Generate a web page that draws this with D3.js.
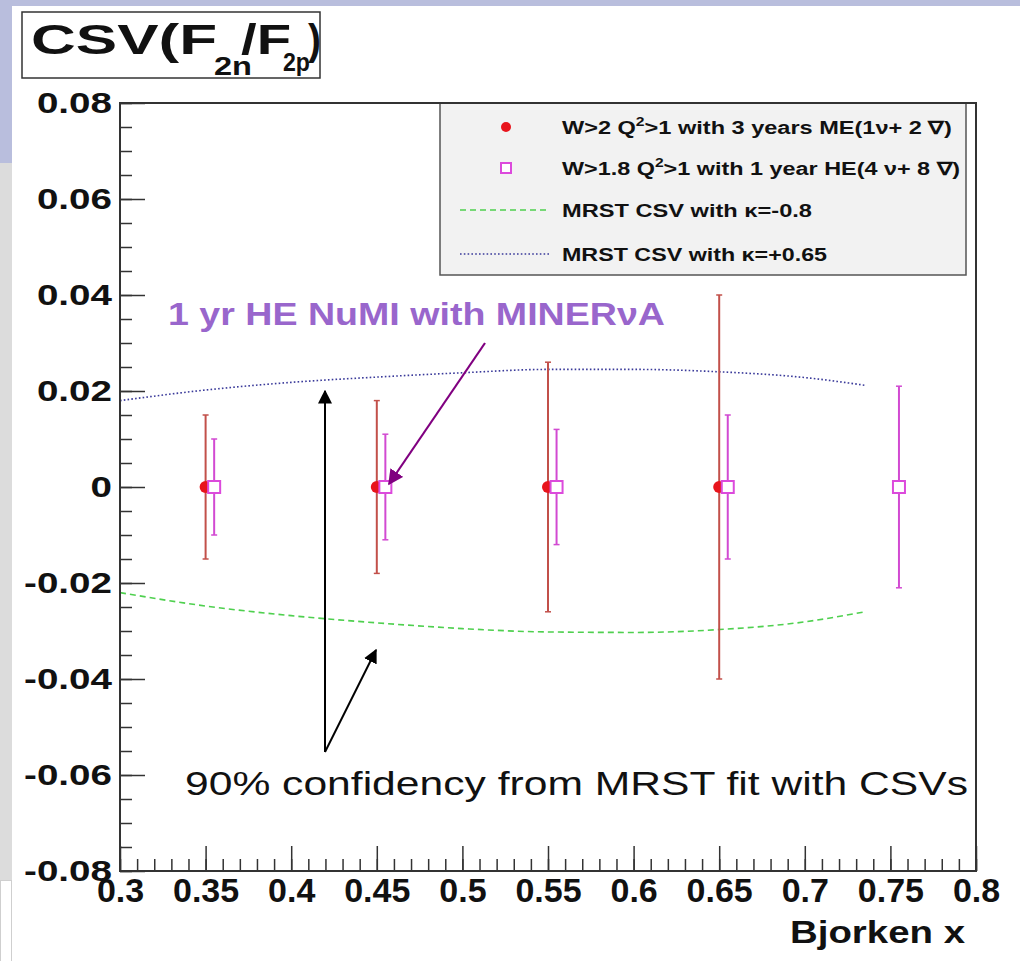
<!DOCTYPE html>
<html>
<head>
<meta charset="utf-8">
<script src="https://cdn.jsdelivr.net/npm/d3@7"></script>
<style>
  html, body { margin: 0; padding: 0; background: #ffffff; }
  svg { display: block; }
  text { font-family: Arial, "Liberation Sans", Helvetica, sans-serif; }
</style>
</head>
<body>
<svg id="chart" width="1020" height="961"></svg>
<script>
// ---------------- data ----------------
const meX   = [0.35, 0.45, 0.55, 0.65];
const meY   = [0, 0, 0, 0];
const meErr = [0.015, 0.018, 0.026, 0.040];

const heX   = [0.355, 0.455, 0.555, 0.655, 0.755];
const heY   = [0, 0, 0, 0, 0];
const heErr = [0.010, 0.011, 0.012, 0.015, 0.021];

const curveX    = [0.30, 0.35, 0.40, 0.45, 0.50, 0.55, 0.60, 0.65, 0.70, 0.735];
const kappaNeg  = [-0.0220, -0.0248, -0.0268, -0.0283, -0.0295, -0.0302, -0.0303, -0.0297, -0.0281, -0.0260];
const kappaPos  = [0.0180, 0.0202, 0.0218, 0.0229, 0.0238, 0.0245, 0.0245, 0.0240, 0.0228, 0.0212];

const xTickLabels = [0.3, 0.35, 0.4, 0.45, 0.5, 0.55, 0.6, 0.65, 0.7, 0.75, 0.8];
const yTickLabels = [-0.08, -0.06, -0.04, -0.02, 0, 0.02, 0.04, 0.06, 0.08];

const legendLabels = [
  ["W>2 Q", "2", ">1 with 3 years ME(1\u03BD+ 2 \u2207)"],
  ["W>1.8 Q", "2", ">1 with 1 year HE(4 \u03BD+ 8 \u2207)"],
  ["MRST CSV with \u03BA=-0.8"],
  ["MRST CSV with \u03BA=+0.65"]
];

// ---------------- setup ----------------
const svg = d3.select("#chart");
const W = 1020, H = 961;
const frame = {left: 120, right: 976, top: 103, bottom: 871};

const x = d3.scaleLinear().domain([0.3, 0.8]).range([frame.left, frame.right]);
const y = d3.scaleLinear().domain([-0.08, 0.08]).range([frame.bottom, frame.top]);

function stretch(sel, sx) {
  sel.each(function() {
    const w = this.getComputedTextLength();
    d3.select(this).attr("textLength", w * sx).attr("lengthAdjust", "spacingAndGlyphs");
  });
}
function fit(sel, w) {
  sel.attr("textLength", w).attr("lengthAdjust", "spacingAndGlyphs");
}

// slide decoration background
svg.append("rect").attr("x", 0).attr("y", 0).attr("width", W).attr("height", 6).attr("fill", "#b9bedd");
svg.append("rect").attr("x", 0).attr("y", 0).attr("width", 12).attr("height", 163).attr("fill", "#b9bedd");
svg.append("rect").attr("x", 0).attr("y", 163).attr("width", 12).attr("height", 717).attr("fill", "#dcdcdc");
svg.append("rect").attr("x", 0.5).attr("y", 880.5).attr("width", 11).attr("height", 85).attr("fill", "#ffffff").attr("stroke", "#cfcfcf");

// ---------------- curves ----------------
const line = d3.line().x((d, i) => x(curveX[i])).y(d => y(d)).curve(d3.curveMonotoneX);
svg.append("path").datum(kappaNeg).attr("d", line)
  .attr("fill", "none").attr("stroke", "#4fd04f").attr("stroke-width", 1.6).attr("stroke-dasharray", "6,4");
svg.append("path").datum(kappaPos).attr("d", line)
  .attr("fill", "none").attr("stroke", "#3a3a9a").attr("stroke-width", 1.6).attr("stroke-dasharray", "1.6,2.2");

// ---------------- error bars ----------------
function errBars(xs, ys, es, color, cap) {
  const g = svg.append("g");
  xs.forEach((xv, i) => {
    g.append("line").attr("x1", x(xv)).attr("x2", x(xv))
      .attr("y1", y(ys[i] + es[i])).attr("y2", y(ys[i] - es[i]))
      .attr("stroke", color).attr("stroke-width", 2);
    [ys[i] + es[i], ys[i] - es[i]].forEach(v => {
      g.append("line").attr("x1", x(xv) - cap).attr("x2", x(xv) + cap)
        .attr("y1", y(v)).attr("y2", y(v)).attr("stroke", color).attr("stroke-width", 1.5);
    });
  });
}
errBars(meX, meY, meErr, "#c2504a", 3);
errBars(heX, heY, heErr, "#d24ad2", 3);

// markers
svg.append("g").selectAll("circle").data(meX).join("circle")
  .attr("cx", d => x(d)).attr("cy", (d, i) => y(meY[i])).attr("r", 6)
  .attr("fill", "#e8141c");
svg.append("g").selectAll("rect").data(heX).join("rect")
  .attr("x", d => x(d) - 6).attr("y", (d, i) => y(heY[i]) - 6).attr("width", 12).attr("height", 12)
  .attr("fill", "#ffffff").attr("stroke", "#dc4adc").attr("stroke-width", 2);

// ---------------- axes ----------------
const yMajor = d3.range(-0.08, 0.0801, 0.02);
const yMinor = d3.range(-0.08, 0.0801, 0.005);
const xMajor = d3.range(0.3, 0.8001, 0.05);
const xMinor = d3.range(0.3, 0.8001, 0.01);

svg.append("g").attr("transform", `translate(${frame.left},0)`)
  .call(d3.axisRight(y).tickValues(yMinor).tickSize(12).tickFormat(""))
  .call(g => g.select(".domain").remove())
  .selectAll("line").attr("stroke", "#333").attr("stroke-width", 1.5);
svg.append("g").attr("transform", `translate(${frame.left},0)`)
  .call(d3.axisRight(y).tickValues(yMajor).tickSize(25).tickFormat(""))
  .call(g => g.select(".domain").remove())
  .selectAll("line").attr("stroke", "#333").attr("stroke-width", 1.5);
svg.append("g").attr("transform", `translate(0,${frame.bottom})`)
  .call(d3.axisTop(x).tickValues(xMinor).tickSize(12).tickFormat(""))
  .call(g => g.select(".domain").remove())
  .selectAll("line").attr("stroke", "#333").attr("stroke-width", 1.5);
svg.append("g").attr("transform", `translate(0,${frame.bottom})`)
  .call(d3.axisTop(x).tickValues(xMajor).tickSize(25).tickFormat(""))
  .call(g => g.select(".domain").remove())
  .selectAll("line").attr("stroke", "#333").attr("stroke-width", 1.5);

// legend box (drawn before frame)
const leg = {x: 440, y: 103, w: 526, h: 172};
svg.append("rect").attr("x", leg.x).attr("y", leg.y).attr("width", leg.w).attr("height", leg.h)
  .attr("fill", "#f2f2f2").attr("stroke", "#555").attr("stroke-width", 1.5);

// frame
svg.append("rect").attr("x", frame.left).attr("y", frame.top)
  .attr("width", frame.right - frame.left).attr("height", frame.bottom - frame.top)
  .attr("fill", "none").attr("stroke", "#333").attr("stroke-width", 2);

// tick labels
const fmt = d => String(+d.toFixed(2));
const yAx = svg.append("g").attr("transform", `translate(${frame.left},0)`)
  .call(d3.axisLeft(y).tickValues(yTickLabels).tickSize(0).tickPadding(8).tickFormat(fmt));
yAx.select(".domain").remove();
yAx.selectAll("text").attr("font-size", 29).attr("font-weight", "bold").attr("fill", "#111")
  .attr("font-family", "Arial, 'Liberation Sans', sans-serif")
  .call(stretch, 1.33);

const xAx = svg.append("g").attr("transform", `translate(0,${frame.bottom})`)
  .call(d3.axisBottom(x).tickValues(xTickLabels).tickSize(0).tickPadding(7).tickFormat(fmt));
xAx.select(".domain").remove();
xAx.selectAll("text").attr("font-size", 34).attr("font-weight", "bold").attr("fill", "#111")
  .attr("font-family", "Arial, 'Liberation Sans', sans-serif");

svg.append("text").attr("x", 790).attr("y", 943)
  .attr("font-size", 32).attr("font-weight", "bold").attr("fill", "#111")
  .text("Bjorken x").call(fit, 175);

// ---------------- legend contents ----------------
const rowsY = [127, 168, 210, 254];
const rowW = [390, 398, 250, 265];
const lg = svg.append("g");
lg.append("circle").attr("cx", 506).attr("cy", rowsY[0]).attr("r", 5).attr("fill", "#e8141c");
lg.append("rect").attr("x", 501).attr("y", rowsY[1] - 5).attr("width", 10).attr("height", 10)
  .attr("fill", "#fff").attr("stroke", "#dc4adc").attr("stroke-width", 2);
lg.append("line").attr("x1", 460).attr("x2", 550).attr("y1", rowsY[2]).attr("y2", rowsY[2])
  .attr("stroke", "#4fd04f").attr("stroke-width", 1.6).attr("stroke-dasharray", "6,4");
lg.append("line").attr("x1", 460).attr("x2", 550).attr("y1", rowsY[3]).attr("y2", rowsY[3])
  .attr("stroke", "#3a3a9a").attr("stroke-width", 1.6).attr("stroke-dasharray", "1.6,2.2");

legendLabels.forEach((parts, i) => {
  const t = lg.append("text").attr("x", 562).attr("y", rowsY[i] + 7)
    .attr("font-size", 18).attr("font-weight", "bold").attr("fill", "#111");
  if (parts.length === 3) {
    t.append("tspan").text(parts[0]);
    t.append("tspan").attr("dy", -8).attr("font-size", 12).text(parts[1]);
    t.append("tspan").attr("dy", 8).text(parts[2]);
  } else {
    t.text(parts[0]);
  }
  fit(t, rowW[i]);
});

// ---------------- title box ----------------
svg.append("rect").attr("x", 22).attr("y", 12).attr("width", 298).attr("height", 66)
  .attr("fill", "#fff").attr("stroke", "#333").attr("stroke-width", 1.5);
const tt = svg.append("g").attr("font-weight", "bold").attr("fill", "#111");
tt.append("text").attr("x", 31).attr("y", 54).attr("font-size", 43).text("CSV(F").call(fit, 186);
tt.append("text").attr("x", 214).attr("y", 75).attr("font-size", 25).text("2n").call(fit, 38);
tt.append("text").attr("x", 241).attr("y", 54).attr("font-size", 43).text("/F").call(fit, 50);
tt.append("text").attr("x", 283).attr("y", 71).attr("font-size", 25).text("2p").call(fit, 27);
tt.append("text").attr("x", 308).attr("y", 54).attr("font-size", 43).text(")").call(fit, 13);

// ---------------- annotations ----------------
const defs = svg.append("defs");
function marker(id, color) {
  defs.append("marker").attr("id", id).attr("viewBox", "0 0 10 10").attr("refX", 9).attr("refY", 5)
    .attr("markerWidth", 7).attr("markerHeight", 7).attr("markerUnits", "strokeWidth")
    .attr("orient", "auto")
    .append("path").attr("d", "M0,0 L10,5 L0,10 Z").attr("fill", color);
}
marker("arrBlack", "#000");
marker("arrPurple", "#800080");

svg.append("text").attr("x", 168).attr("y", 325).attr("font-size", 31).attr("font-weight", "bold")
  .attr("fill", "#9966cc").text("1 yr HE NuMI with MINER\u03BDA").call(fit, 497);
svg.append("line").attr("x1", 485).attr("y1", 343).attr("x2", 389).attr("y2", 484)
  .attr("stroke", "#800080").attr("stroke-width", 2.2).attr("marker-end", "url(#arrPurple)");

svg.append("line").attr("x1", 325).attr("y1", 752).attr("x2", 325).attr("y2", 391)
  .attr("stroke", "#000").attr("stroke-width", 2).attr("marker-end", "url(#arrBlack)");
svg.append("line").attr("x1", 325).attr("y1", 752).attr("x2", 376).attr("y2", 650)
  .attr("stroke", "#000").attr("stroke-width", 2).attr("marker-end", "url(#arrBlack)");

svg.append("text").attr("x", 185).attr("y", 795).attr("font-size", 34).attr("fill", "#111")
  .text("90% confidency from MRST fit with CSVs").call(fit, 783);
</script>
</body>
</html>
